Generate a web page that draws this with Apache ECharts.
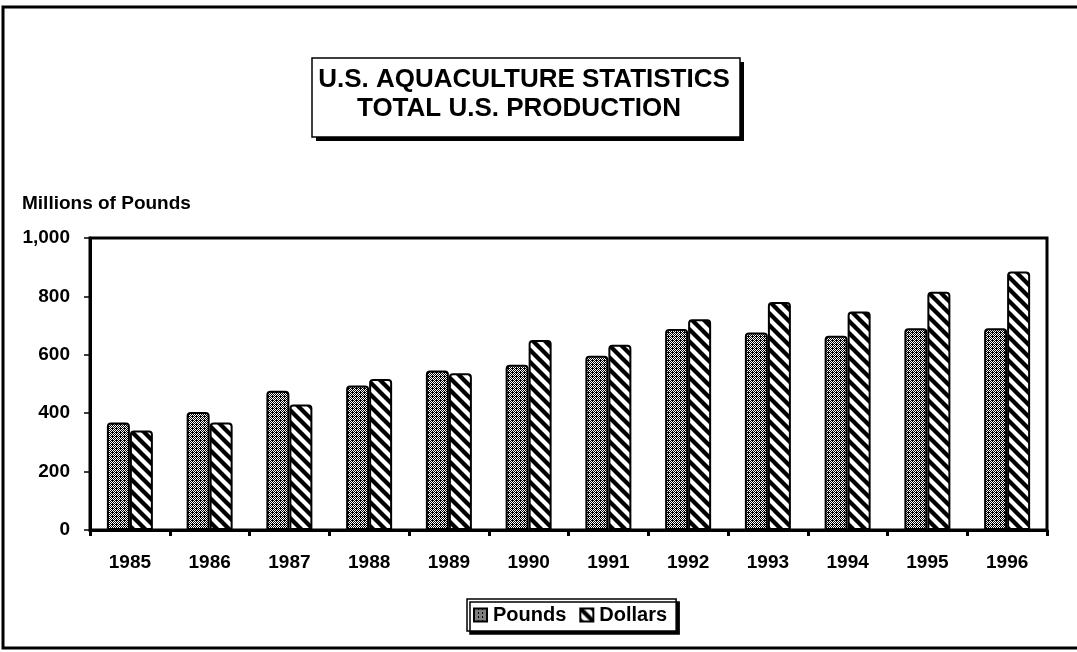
<!DOCTYPE html>
<html>
<head>
<meta charset="utf-8">
<title>U.S. Aquaculture Statistics</title>
<script src="https://cdn.jsdelivr.net/npm/echarts@6/dist/echarts.min.js"></script>
<style>
  html, body { margin: 0; padding: 0; background: #fff; }
  #chart { width: 1077px; height: 652px; }
</style>
</head>
<body>
<div id="chart"></div>
<script>
// data (millions)
var years = ['1985', '1986', '1987', '1988', '1989', '1990', '1991', '1992', '1993', '1994', '1995', '1996'];
var pounds = [368, 404, 477, 495, 546, 566, 597, 688, 676, 665, 691, 691];
var dollars = [341, 368, 430, 517, 537, 651, 634, 722, 781, 748, 816, 885];
var yTicks = [0, 200, 400, 600, 800, 1000];
var titleLines = ['U.S. AQUACULTURE STATISTICS', 'TOTAL U.S. PRODUCTION'];

// dotted fill for Pounds
function dotPattern() {
    var c = document.createElement('canvas');
    c.width = 4; c.height = 4;
    var ctx = c.getContext('2d');
    ctx.fillStyle = '#000';
    ctx.fillRect(0, 0, 4, 4);
    ctx.fillStyle = '#fff';
    for (var x = 0; x < 4; x++) {
        for (var y = 0; y < 4; y++) {
            if ((x + y) % 2 === 0 && !(x === 0 && y === 0)) {
                ctx.fillRect(x, y, 1, 1);
            }
        }
    }
    return c;
}

// "\" stripes for Dollars
function stripePattern() {
    var s = 12;
    var c = document.createElement('canvas');
    c.width = s; c.height = s;
    var ctx = c.getContext('2d');
    ctx.fillStyle = '#fff';
    ctx.fillRect(0, 0, s, s);
    ctx.strokeStyle = '#000';
    ctx.lineWidth = 4.3;
    for (var k = -1; k <= 1; k++) {
        ctx.beginPath();
        ctx.moveTo(-2, k * s - 2);
        ctx.lineTo(s + 2, s + k * s + 2);
        ctx.stroke();
    }
    return c;
}

var font = 'Liberation Sans, Arial, sans-serif';
var chart = echarts.init(document.getElementById('chart'));

chart.setOption({
    backgroundColor: '#fff',
    animation: false,
    legend: {
        data: ['Pounds', 'Dollars'],
        left: 467,
        top: 599,
        padding: [6, 9, 6, 6],
        itemWidth: 13,
        itemHeight: 13,
        itemGap: 13,
        icon: 'rect',
        backgroundColor: '#fff',
        borderColor: '#000',
        borderWidth: 1.5,
        shadowColor: '#000',
        shadowOffsetX: 3,
        shadowOffsetY: 3,
        shadowBlur: 0,
        textStyle: {
            fontFamily: font,
            fontSize: 20,
            fontWeight: 'bold',
            color: '#000',
            padding: [2, 0, 0, 1]
        }
    },
    grid: {
        left: 90,
        right: 30,
        top: 238,
        bottom: 122,
        show: true,
        borderColor: '#000',
        borderWidth: 3,
        backgroundColor: 'transparent'
    },
    graphic: [
        {
            type: 'rect',
            shape: { x: 3, y: 7, width: 1200, height: 641 },
            style: { fill: 'none', stroke: '#000', lineWidth: 3 },
            silent: true
        },
        // title box with drop shadow
        {
            type: 'rect',
            shape: { x: 316, y: 62, width: 428, height: 79 },
            style: { fill: '#000' },
            silent: true
        },
        {
            type: 'rect',
            shape: { x: 312, y: 58, width: 428, height: 79 },
            style: { fill: '#fff', stroke: '#000', lineWidth: 1.5 },
            silent: true
        },
        {
            type: 'text',
            x: 524,
            y: 80,
            style: {
                text: titleLines[0],
                font: 'bold 26px ' + font,
                fill: '#000',
                textAlign: 'center',
                textVerticalAlign: 'middle'
            }
        },
        {
            type: 'text',
            x: 519,
            y: 109,
            style: {
                text: titleLines[1],
                font: 'bold 26px ' + font,
                fill: '#000',
                textAlign: 'center',
                textVerticalAlign: 'middle'
            }
        },
        {
            type: 'text',
            left: 22,
            top: 194,
            style: {
                text: 'Millions of Pounds',
                font: 'bold 19px ' + font,
                fill: '#000'
            }
        }
    ],
    xAxis: {
        type: 'category',
        data: years,
        axisLine: { lineStyle: { color: '#000', width: 3 } },
        axisTick: { show: true, length: 6, lineStyle: { color: '#000', width: 3 } },
        axisLabel: {
            margin: 23,
            fontFamily: font,
            fontSize: 19,
            fontWeight: 'bold',
            color: '#000'
        }
    },
    yAxis: {
        type: 'value',
        min: yTicks[0],
        max: yTicks[yTicks.length - 1],
        interval: yTicks[1] - yTicks[0],
        splitLine: { show: false },
        axisLine: { show: true, lineStyle: { color: '#000', width: 3 } },
        axisTick: { show: true, length: 6, lineStyle: { color: '#000', width: 1.5 } },
        axisLabel: {
            margin: 20,
            fontFamily: font,
            fontSize: 19,
            fontWeight: 'bold',
            color: '#000',
            formatter: function (v) { return v.toLocaleString('en-US'); }
        }
    },
    series: [
        {
            name: 'Pounds',
            type: 'bar',
            data: pounds,
            barWidth: 23,
            barGap: '0%',
            itemStyle: {
                color: { image: dotPattern(), repeat: 'repeat' },
                borderColor: '#000',
                borderWidth: 2,
                borderRadius: [3, 3, 0, 0]
            }
        },
        {
            name: 'Dollars',
            type: 'bar',
            data: dollars,
            barWidth: 23,
            barGap: '0%',
            itemStyle: {
                color: { image: stripePattern(), repeat: 'repeat' },
                borderColor: '#000',
                borderWidth: 2,
                borderRadius: [3, 3, 0, 0]
            }
        }
    ]
});
</script>
</body>
</html>
